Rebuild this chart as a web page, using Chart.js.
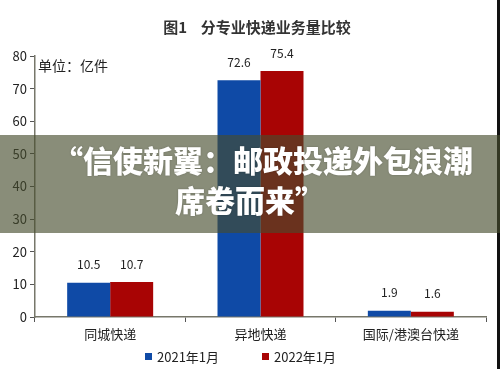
<!DOCTYPE html>
<html>
<head>
<meta charset="utf-8">
<script src="https://cdn.jsdelivr.net/npm/chart.js@4/dist/chart.umd.min.js"></script>
<style>
html,body{margin:0;padding:0;background:#fff;}
#wrap{width:500px;height:369px;position:relative;}
</style>
</head>
<body>
<div id="wrap"><canvas id="c" width="500" height="369"></canvas></div>
<script>
const categories = ['同城快递', '异地快递', '国际/港澳台快递'];
const series2021 = [10.5, 72.6, 1.9];
const series2022 = [10.7, 75.4, 1.6];
const seriesLabels = ['2021年1月', '2022年1月'];
const yTicks = [0, 10, 20, 30, 40, 50, 60, 70, 80];
const titleText = '图1    分专业快递业务量比较';
const unitText = '单位：亿件';
const overlayLines = ['“信使新翼：邮政投递外包浪潮', '席卷而来”'];

const FONT = '"Noto Sans CJK SC", "Noto Sans", sans-serif';
const BLUE = '#0f4aa6';
const RED = '#a80404';

const decor = {
  id: 'decor',
  beforeDraw(chart) {
    const ctx = chart.ctx;
    ctx.save();
    ctx.fillStyle = '#fff';
    ctx.fillRect(0, 0, chart.width, chart.height);
    ctx.restore();
  },
  afterDraw(chart) {
    const ctx = chart.ctx;
    const area = chart.chartArea;
    ctx.save();
    // title
    ctx.fillStyle = '#333';
    ctx.font = 'bold 15px ' + FONT;
    ctx.textAlign = 'center';
    ctx.textBaseline = 'middle';
    ctx.fillText(titleText, 257, 27);
    // unit
    ctx.font = '14px ' + FONT;
    ctx.textAlign = 'left';
    ctx.fillStyle = '#222';
    ctx.fillText(unitText, area.left + 3, 66);
    // data labels
    ctx.font = '12px ' + FONT;
    ctx.textAlign = 'center';
    ctx.fillStyle = '#222';
    chart.data.datasets.forEach((ds, i) => {
      const meta = chart.getDatasetMeta(i);
      meta.data.forEach((bar, j) => {
        ctx.fillText(String(ds.data[j]), bar.x, bar.y - 18);
      });
    });
    // legend
    ctx.font = '13px ' + FONT;
    ctx.textAlign = 'left';
    const legendX = [145, 262];
    chart.data.datasets.forEach((ds, i) => {
      ctx.fillStyle = ds.backgroundColor;
      ctx.fillRect(legendX[i], 353, 7, 7);
      ctx.fillStyle = '#222';
      ctx.fillText(ds.label, legendX[i] + 12, 357);
    });
    // right border
    ctx.fillStyle = '#111';
    ctx.fillRect(497, 0, 3, chart.height);
    // overlay band
    ctx.fillStyle = 'rgba(70,76,45,0.64)';
    ctx.fillRect(0, 135, chart.width, 98);
    ctx.fillStyle = '#fff';
    ctx.font = '900 30px ' + FONT;
    ctx.textAlign = 'center';
    ctx.shadowColor = 'rgba(0,0,0,0.25)';
    ctx.shadowBlur = 2;
    ctx.fillText(overlayLines[0], 263, 161);
    ctx.fillText(overlayLines[1], 250, 201);
    ctx.restore();
  }
};

new Chart(document.getElementById('c'), {
  type: 'bar',
  data: {
    labels: categories,
    datasets: [
      { label: seriesLabels[0], data: series2021, backgroundColor: BLUE },
      { label: seriesLabels[1], data: series2022, backgroundColor: RED }
    ]
  },
  options: {
    responsive: false,
    animation: false,
    layout: { padding: { top: 56, right: 14, left: 0, bottom: 0 } },
    plugins: { legend: { display: false }, tooltip: { enabled: false } },
    datasets: { bar: { categoryPercentage: 0.572, barPercentage: 1.0 } },
    scales: {
      x: {
        afterFit(s) { s.height = 52; },
        grid: { display: true, drawOnChartArea: false, offset: true, tickLength: 5, color: '#555' },
        border: { color: '#77776a', width: 1.5 },
        ticks: { color: '#222', font: { family: FONT, size: 13 }, padding: 4 }
      },
      y: {
        min: 0, max: 80,
        afterFit(s) { s.width = 35; },
        afterBuildTicks(s) { s.ticks = yTicks.map(v => ({ value: v })); },
        grid: { display: true, drawOnChartArea: false, tickLength: 5, color: '#555' },
        border: { color: '#77776a', width: 1.5 },
        ticks: { color: '#222', font: { family: FONT, size: 13 }, padding: 3 }
      }
    }
  },
  plugins: [decor]
});
</script>
</body>
</html>
